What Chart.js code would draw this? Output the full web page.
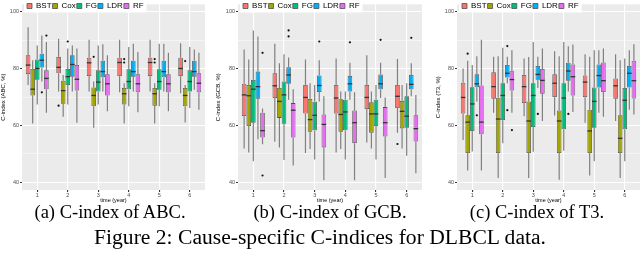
<!DOCTYPE html>
<html>
<head>
<meta charset="utf-8">
<script src="https://cdn.jsdelivr.net/npm/chart.js@4.4.1/dist/chart.umd.min.js"></script>
<style>
  body { margin: 0; background: #fff; width: 640px; height: 253px; overflow: hidden; position: relative; font-family: "Liberation Serif", serif; }
  canvas { position: absolute; top: 0; }
  .cap { position: absolute; font-size: 18.5px; line-height: 20px; white-space: nowrap; transform: translateX(-50%); color: #000; }
  .fig { font-size: 21.6px; line-height: 24px; }
</style>
</head>
<body>
<canvas id="abc" width="205" height="205" style="left:0"></canvas>
<canvas id="gcb" width="207" height="205" style="left:215px"></canvas>
<canvas id="t3" width="205" height="205" style="left:435px"></canvas>
<div class="cap" style="left:110px;top:202px">(a) C-index of ABC.</div>
<div class="cap" style="left:330px;top:202px">(b) C-index of GCB.</div>
<div class="cap" style="left:537px;top:202px">(c) C-index of T3.</div>
<div class="cap fig" style="left:320px;top:225px">Figure 2: Cause-specific C-indices for DLBCL data.</div>
<script>
// time points and methods
const times = ["1", "2", "3", "4", "5", "6"];
const methods = ["BST", "Cox", "FG", "LDR", "RF"];
const colors = ["#F8766D", "#A3A500", "#00BF7D", "#00B0F6", "#E76BF3"];

// box stats per time: [whisker low, q1, median, q3, whisker high]
const abcBST = [[74.3,78.1,81.3,84.8,94.6],[72.0,78.4,80.5,84.2,90.6],[72.0,77.4,82.1,83.9,90.2],[71.7,77.4,82.2,83.9,90.2],[72.0,77.4,82.2,83.9,90.2],[71.4,77.4,80.1,83.9,89.0]];
const abcCox = [[60.7,70.6,72.8,79.9,83.0],[63.1,67.7,72.3,75.8,77.8],[59.2,66.8,70.6,73.4,75.5],[60.7,67.4,71.2,73.2,74.9],[60.7,67.0,71.2,73.2,74.9],[61.1,66.8,70.6,73.2,74.3]];
const abcFG  = [[67.4,76.1,80.1,83.3,88.2],[67.4,74.3,77.2,79.9,87.1],[67.4,72.0,75.3,79.5,88.2],[66.8,72.8,75.5,79.8,87.7],[66.8,72.6,75.5,79.8,88.8],[66.2,72.0,75.5,79.5,87.7]];
const abcLDR = [[75.5,80.4,83.0,85.3,91.7],[72.0,77.2,81.5,84.8,88.2],[72.0,77.0,79.0,82.8,88.6],[72.0,77.2,79.0,82.8,88.8],[72.0,77.0,79.0,82.8,88.8],[72.6,77.2,79.0,82.8,86.8]];
const abcRF  = [[64.5,72.8,76.6,79.5,89.4],[61.0,72.3,76.3,81.3,87.1],[65.0,70.6,74.7,78.1,84.8],[64.7,71.7,74.7,78.1,85.9],[65.0,71.7,74.7,78.1,85.6],[65.6,71.7,74.9,78.4,85.6]];
// outliers: [method index, time index, value]
const abcOut = [[4,0,91.7],[3,0,71.7],[0,1,67.0],[2,1,89.6],[1,2,84.2],[1,3,83.4],[1,3,82.2],[1,4,83.4],[1,4,82.2],[1,5,82.7]];

const gcbBST = [[51.9,63.3,70.8,74.7,86.8],[54.3,69.7,74.0,78.4,88.8],[50.3,64.2,69.9,74.3,83.3],[50.5,64.2,69.7,74.3,83.6],[54.0,65.8,69.9,74.3,84.8],[57.5,66.2,70.3,74.3,83.4]];
const gcbCox = [[50.5,59.8,70.5,74.3,83.3],[52.3,62.7,68.5,73.2,81.9],[51.7,57.8,62.1,69.4,74.9],[51.7,57.8,63.9,69.3,72.0],[51.9,57.5,64.1,68.2,72.0],[51.9,59.0,65.0,68.7,74.3]];
const gcbFG  = [[47.4,61.0,72.8,76.1,93.5],[47.9,60.6,70.8,75.5,85.1],[48.0,58.3,63.6,68.4,74.3],[48.0,58.3,64.8,69.1,72.0],[48.0,59.8,64.1,69.1,74.3],[49.4,59.2,63.3,70.3,74.9]];
const gcbLDR = [[55.2,69.4,73.7,79.0,91.4],[69.1,74.7,77.8,80.5,84.0],[68.5,71.8,74.1,77.6,83.0],[69.1,72.0,74.7,77.5,82.1],[69.7,72.8,74.7,78.0,82.1],[70.3,72.8,74.5,77.8,81.9]];
const gcbRF  = [[53.4,55.8,58.2,64.5,66.0],[45.9,55.8,65.4,67.9,72.8],[40.7,52.3,60.4,63.9,70.3],[40.7,53.8,61.0,65.3,71.7],[41.5,56.1,61.0,66.5,69.9],[43.2,54.4,58.9,63.6,70.8]];
const gcbOut = [[4,0,85.6],[4,0,42.4],[3,1,93.5],[3,1,91.4],[3,2,89.6],[3,3,89.3],[3,4,90.2],[0,5,53.5],[3,5,90.9]];

const t3BST = [[54.9,64.2,69.9,75.1,80.1],[64.5,69.4,73.7,78.8,84.2],[63.3,67.9,73.7,77.8,83.6],[63.5,70.0,74.9,78.1,86.2],[61.0,70.0,75.3,77.6,85.1],[61.6,69.4,74.0,76.6,85.1]];
const t3Cox = [[44.2,50.3,61.2,63.6,82.8],[41.5,50.3,62.3,69.8,84.4],[41.5,50.3,61.6,68.5,84.1],[40.9,50.3,61.6,65.3,84.4],[42.4,50.3,58.1,65.6,84.2],[41.5,50.3,55.5,63.6,83.0]];
const t3FG  = [[50.9,58.1,67.6,73.5,81.3],[53.8,61.9,70.6,74.9,87.4],[50.8,59.5,70.6,74.9,89.4],[51.1,58.7,69.7,74.9,89.4],[47.4,59.2,68.5,73.4,86.5],[47.4,58.7,68.9,73.2,83.6]];
const t3LDR = [[68.5,73.5,74.7,78.1,84.4],[74.9,76.9,78.4,81.3,84.2],[73.2,76.1,78.0,81.0,84.2],[72.0,75.8,79.2,82.1,87.9],[64.5,73.4,77.6,81.5,86.5],[65.6,73.4,78.4,81.0,86.5]];
const t3RF  = [[44.2,56.9,61.2,74.1,90.2],[64.5,72.3,76.2,79.1,86.5],[61.6,71.2,75.9,79.9,87.1],[64.8,70.6,77.2,81.5,88.5],[63.1,71.8,75.8,82.2,87.1],[63.9,69.5,75.8,82.8,88.6]];
const t3Out = [[1,0,85.3],[3,0,63.6],[3,1,88.0],[3,1,65.4],[4,1,58.4],[3,2,64.1],[3,3,64.1]];

const FONT = "'Liberation Sans', Arial, sans-serif";

// gray panel, white legend box, whiskers, medians and outliers
const boxPlot = {
  id: "boxPlot",
  afterInit(chart) {
    // legend sits inside the plot but runs in one row
    chart.legend.isHorizontal = () => true;
  },
  afterLayout(chart) {
    const lg = chart.legend;
    lg.top = 1;
    lg.left = chart.chartArea.left + 4;
    lg.right = lg.left + lg.width;
  },
  beforeDraw(chart) {
    const { ctx, chartArea: a } = chart;
    ctx.save();
    ctx.fillStyle = "#EBEBEB";
    ctx.fillRect(a.left, a.top, a.right - a.left, a.bottom - a.top);
    ctx.restore();
  },
  beforeDatasetsDraw(chart) {
    const { ctx } = chart;
    const y = chart.scales.y;
    // legend background on top of grid
    const hb = chart.legend.legendHitBoxes;
    if (hb && hb.length) {
      const last = hb[hb.length - 1];
      const x0 = hb[0].left - 3;
      ctx.save();
      ctx.fillStyle = "#fff";
      ctx.fillRect(x0, 0, last.left + last.width + 3 - x0, 12.5);
      ctx.restore();
      chart.legend.draw();
    }
    ctx.save();
    ctx.strokeStyle = "#808080";
    ctx.lineWidth = 1.2;
    chart.data.datasets.forEach((ds, i) => {
      chart.getDatasetMeta(i).data.forEach((bar, j) => {
        const s = ds.stats[j];
        ctx.beginPath();
        ctx.moveTo(bar.x, y.getPixelForValue(s[0]));
        ctx.lineTo(bar.x, y.getPixelForValue(s[1]));
        ctx.moveTo(bar.x, y.getPixelForValue(s[3]));
        ctx.lineTo(bar.x, y.getPixelForValue(s[4]));
        ctx.stroke();
      });
    });
    ctx.restore();
  },
  afterDatasetsDraw(chart, args, opts) {
    const { ctx } = chart;
    const y = chart.scales.y;
    ctx.save();
    ctx.strokeStyle = "#333";
    ctx.lineWidth = 1.3;
    chart.data.datasets.forEach((ds, i) => {
      chart.getDatasetMeta(i).data.forEach((bar, j) => {
        const m = y.getPixelForValue(ds.stats[j][2]);
        ctx.beginPath();
        ctx.moveTo(bar.x - bar.width / 2, m);
        ctx.lineTo(bar.x + bar.width / 2, m);
        ctx.stroke();
      });
    });
    ctx.fillStyle = "#111";
    (opts.outliers || []).forEach(([mi, ti, v]) => {
      const bar = chart.getDatasetMeta(mi).data[ti];
      ctx.beginPath();
      ctx.arc(bar.x, y.getPixelForValue(v), 1.1, 0, Math.PI * 2);
      ctx.fill();
    });
    ctx.restore();
  }
};

function makeChart(id, yTitle, series, outliers, yWidth) {
  return new Chart(document.getElementById(id), {
    type: "bar",
    data: {
      labels: times,
      datasets: methods.map((name, i) => ({
        label: name,
        stats: series[i],
        data: series[i].map(s => [s[1], s[3]]),
        backgroundColor: colors[i],
        borderColor: "#505050",
        borderWidth: 0.8,
        borderSkipped: false,
        categoryPercentage: 0.75,
        barPercentage: 1
      }))
    },
    options: {
      responsive: false,
      animation: false,
      events: [],
      layout: { padding: { top: 2, right: 0, bottom: 0, left: 0 } },
      plugins: {
        tooltip: { enabled: false },
        legend: {
          position: "chartArea",
          align: "start",
          labels: { boxWidth: 5, boxHeight: 5, padding: 1, color: "#000", font: { family: FONT, size: 8 } }
        },
        boxPlot: { outliers }
      },
      scales: {
        x: {
          afterFit(s) { s.height = 15; },
          border: { display: false },
          grid: { color: "#fff", lineWidth: 1.1, offset: false, tickLength: 2, tickColor: "#333" },
          ticks: { color: "#4D4D4D", padding: 0, font: { family: FONT, size: 5.5 } },
          title: { display: true, text: "time (year)", color: "#000", padding: { top: 0, bottom: 1 }, font: { family: FONT, size: 5.5 } }
        },
        y: {
          min: 37.3,
          max: 102.7,
          afterFit(s) { s.width = yWidth; },
          border: { display: false },
          grid: {
            color: "#fff",
            lineWidth: c => (c.tick && c.tick.value % 20 === 0 ? 1.1 : 0.5),
            tickLength: 2,
            tickColor: c => (c.tick && c.tick.value % 20 === 0 ? "#333" : "rgba(0,0,0,0)")
          },
          ticks: {
            stepSize: 10,
            includeBounds: false,
            padding: 1,
            color: "#4D4D4D",
            font: { family: FONT, size: 5.5 },
            callback: v => (v % 20 === 0 ? v : "")
          },
          title: { display: true, text: yTitle, color: "#000", padding: 0, font: { family: FONT, size: 6 } }
        }
      }
    },
    plugins: [boxPlot]
  });
}

makeChart("abc", "C-index (ABC, %)", [abcBST, abcCox, abcFG, abcLDR, abcRF], abcOut, 22);
makeChart("gcb", "C-index (GCB, %)", [gcbBST, gcbCox, gcbFG, gcbLDR, gcbRF], gcbOut, 23);
makeChart("t3", "C-index (T3, %)", [t3BST, t3Cox, t3FG, t3LDR, t3RF], t3Out, 22);
</script>
</body>
</html>
